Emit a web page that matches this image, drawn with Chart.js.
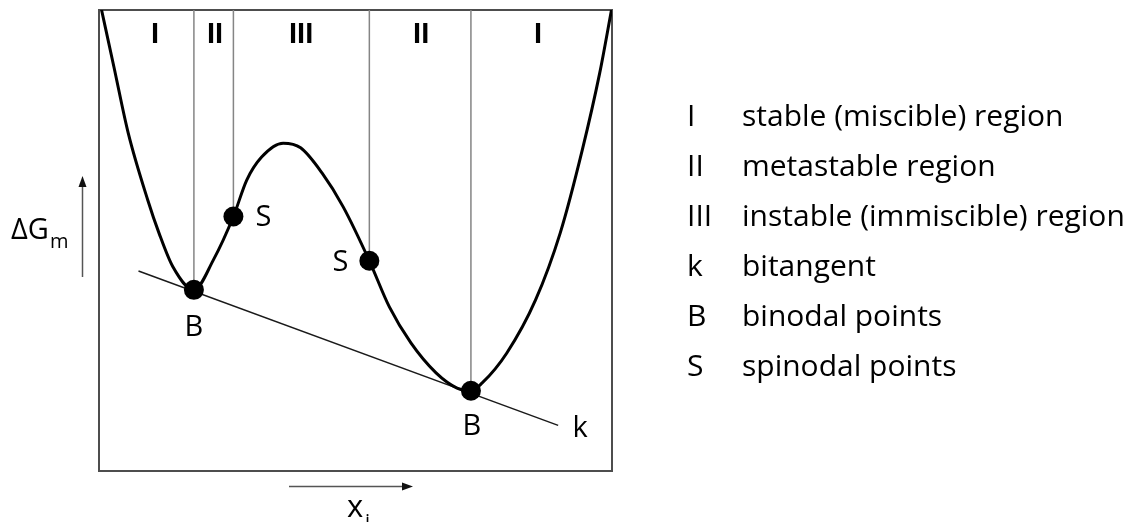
<!DOCTYPE html>
<html>
<head>
<meta charset="utf-8">
<script src="https://cdn.jsdelivr.net/npm/chart.js@4"></script>
<style>
  html, body { margin: 0; padding: 0; background: #fff; }
  canvas { display: block; }
</style>
</head>
<body>
<canvas id="chart" width="1139" height="522"></canvas>
<script>
// Gibbs free energy of mixing vs. composition (arbitrary units, both axes 0..1)
const curveX = [0.005, 0.029, 0.057, 0.095, 0.117, 0.144, 0.185, 0.223, 0.262, 0.288, 0.317, 0.359,
                0.393, 0.435, 0.476, 0.527, 0.566, 0.608, 0.657, 0.698, 0.725, 0.747, 0.795, 0.851,
                0.899, 0.942, 0.976, 0.999];
const curveY = [1.000, 0.877, 0.733, 0.588, 0.516, 0.443, 0.393, 0.458, 0.552, 0.631, 0.681, 0.711,
                0.701, 0.646, 0.573, 0.456, 0.356, 0.278, 0.213, 0.180, 0.174, 0.191, 0.256, 0.371,
                0.516, 0.696, 0.863, 1.000];

const binodalX = [0.185, 0.725];
const binodalY = [0.393, 0.174];
const spinodalX = [0.262, 0.527];
const spinodalY = [0.552, 0.456];

// bitangent k
const tangentX = [0.077, 0.895];
const tangentY = [0.434, 0.099];

const regionNames = ['I', 'II', 'III', 'II', 'I'];
const regionLabelX = [0.109, 0.226, 0.394, 0.628, 0.856];

const legendSymbols = ['I', 'II', 'III', 'k', 'B', 'S'];
const legendTexts = ['stable (miscible) region', 'metastable region', 'instable (immiscible) region',
                     'bitangent', 'binodal points', 'spinodal points'];

const toPoints = (xs, ys) => xs.map((x, i) => ({ x: x, y: ys[i] }));

// region borders: vertical line from the top edge down to each B / S point
const borderX = [binodalX[0], spinodalX[0], spinodalX[1], binodalX[1]];
const borderY = [binodalY[0], spinodalY[0], spinodalY[1], binodalY[1]];
const borderSets = borderX.map((x, i) => ({
    data: [{ x: x, y: 1 }, { x: x, y: borderY[i] }],
    showLine: true,
    borderColor: '#858585',
    borderWidth: 1.5,
    pointRadius: 0,
    order: 4
}));

const textFont = '"Open Sans"';

const decor = {
    id: 'decor',
    beforeDatasetsDraw(chart) {
        const { ctx, chartArea: a } = chart;
        ctx.save();
        ctx.strokeStyle = '#4d4d4d';
        ctx.lineWidth = 2;
        ctx.strokeRect(a.left, a.top, a.right - a.left, a.bottom - a.top);
        ctx.restore();
    },
    afterDraw(chart) {
        const { ctx } = chart;
        const sx = chart.scales.x, sy = chart.scales.y;
        ctx.save();
        ctx.fillStyle = '#000';

        // region numerals along the top
        ctx.font = 'bold 29px "Liberation Sans"';
        ctx.textAlign = 'center';
        ctx.textBaseline = 'middle';
        regionNames.forEach((t, i) => {
            ctx.fillText(t, sx.getPixelForValue(regionLabelX[i]), sy.getPixelForValue(0.945));
        });

        // point letters
        ctx.font = '29px ' + textFont;
        const put = (t, x, y, dx, dy) => ctx.fillText(t, sx.getPixelForValue(x) + dx, sy.getPixelForValue(y) + dy);
        put('S', spinodalX[0], spinodalY[0], 30, 1);
        put('S', spinodalX[1], spinodalY[1], -29, 2);
        put('B', binodalX[0], binodalY[0], 0, 38);
        put('B', binodalX[1], binodalY[1], 1, 36);
        put('k', tangentX[1], tangentY[1], 22, 3);

        // legend on the right
        ctx.font = '30px ' + textFont;
        ctx.textAlign = 'left';
        ctx.textBaseline = 'alphabetic';
        legendSymbols.forEach((s, i) => {
            const y = 126 + i * 50;
            ctx.fillText(s, 687, y);
            ctx.fillText(legendTexts[i], 742, y);
        });

        // y axis label with arrow
        ctx.font = '29px ' + textFont;
        ctx.fillText('\u0394G', 11, 239);
        ctx.font = '20px ' + textFont;
        ctx.fillText('m', 50, 248);

        ctx.strokeStyle = '#555';
        ctx.fillStyle = '#111';
        ctx.lineWidth = 1.5;
        ctx.beginPath();
        ctx.moveTo(82.5, 277);
        ctx.lineTo(82.5, 184);
        ctx.stroke();
        ctx.beginPath();
        ctx.moveTo(82.5, 176);
        ctx.lineTo(78.5, 187);
        ctx.lineTo(86.5, 187);
        ctx.closePath();
        ctx.fill();

        // x axis label with arrow
        ctx.beginPath();
        ctx.moveTo(289, 486.5);
        ctx.lineTo(404, 486.5);
        ctx.stroke();
        ctx.beginPath();
        ctx.moveTo(413, 486.5);
        ctx.lineTo(402, 482.5);
        ctx.lineTo(402, 490.5);
        ctx.closePath();
        ctx.fill();

        ctx.fillStyle = '#000';
        ctx.font = '31px ' + textFont;
        ctx.fillText('x', 347, 517);
        ctx.font = '20px ' + textFont;
        ctx.fillText('i', 365, 528);
        ctx.restore();
    }
};

const chartElement = document.querySelector('#chart');
const ctx = chartElement.getContext('2d');

const myChart = new Chart(ctx, {
    type: 'scatter',
    data: {
        datasets: [
            {
                data: toPoints(binodalX.concat(spinodalX), binodalY.concat(spinodalY)),
                showLine: false,
                pointRadius: 10,
                pointBackgroundColor: '#000',
                pointBorderColor: '#000',
                pointBorderWidth: 0,
                order: 0
            },
            {
                data: toPoints(curveX, curveY),
                showLine: true,
                borderColor: '#000',
                borderWidth: 3,
                pointRadius: 0,
                cubicInterpolationMode: 'monotone',
                order: 1
            },
            {
                data: toPoints(tangentX, tangentY),
                showLine: true,
                borderColor: '#1a1a1a',
                borderWidth: 1.5,
                pointRadius: 0,
                order: 2
            },
            ...borderSets
        ]
    },
    options: {
        responsive: false,
        animation: false,
        layout: { padding: { left: 99, right: 527, top: 10, bottom: 51 } },
        scales: {
            x: { type: 'linear', min: 0, max: 1, display: false },
            y: { type: 'linear', min: 0, max: 1, display: false }
        },
        plugins: {
            legend: { display: false },
            tooltip: { enabled: false }
        }
    },
    plugins: [decor]
});
</script>
</body>
</html>
